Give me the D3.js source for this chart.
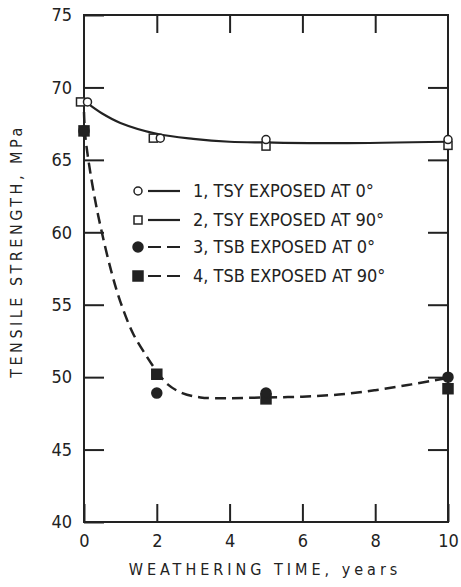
<!DOCTYPE html>
<html>
<head>
<meta charset="utf-8">
<script src="https://cdn.jsdelivr.net/npm/d3@7.9.0/dist/d3.min.js"></script>
<style>
  html, body { margin: 0; padding: 0; background: #fff; }
  svg { display: block; }
  text { font-family: "DejaVu Sans Condensed", "Liberation Sans Narrow", "DejaVu Sans", sans-serif; font-stretch: condensed; fill: #222; }
</style>
</head>
<body>
<svg id="chart" width="461" height="587"></svg>
<script>
// === Data ===
const years = [0, 2, 5, 10];
const tsy0 = [69.0, 66.5, 66.4, 66.4];   // 1, open circle
const tsy90 = [69.0, 66.5, 65.95, 66.0]; // 2, open square
const tsb0 = [67.0, 48.9, 48.9, 50.0];   // 3, filled circle
const tsb90 = [67.0, 50.2, 48.5, 49.2];  // 4, filled square

// hand-drawn fit curves (x in years, y in MPa)
const solidFit = [[0.1, 68.9], [0.5, 68.2], [1, 67.55], [2, 66.8], [3, 66.45], [4, 66.25], [5, 66.2], [7, 66.15], [10, 66.25]];
const dashedFit = [[0, 68.3], [0.03, 66.8], [0.12, 65], [0.3, 62.3], [0.49, 60], [0.75, 57.3], [1.0, 55.2], [1.35, 53.0],
                   [1.73, 51.4], [2.0, 50.4], [2.3, 49.5], [2.7, 48.9], [3.2, 48.6], [4, 48.55], [5, 48.6], [6, 48.65],
                   [7, 48.8], [8, 49.1], [9, 49.5], [10, 49.95]];

const xTicks = [0, 2, 4, 6, 8, 10];
const yTicks = [40, 45, 50, 55, 60, 65, 70, 75];
const legendLabels = ['1, TSY EXPOSED AT 0°', '2, TSY EXPOSED AT 90°', '3, TSB EXPOSED AT 0°', '4, TSB EXPOSED AT 90°'];

// === Layout ===
const mLeft = 84, mRight = 448, mTop = 15, mBottom = 522;
const ink = '#222';
const svg = d3.select('#chart');
const x = d3.scaleLinear().domain([0, 10]).range([mLeft, mRight]);
const y = d3.scaleLinear().domain([40, 75]).range([mBottom, mTop]);

// frame
svg.append('rect')
  .attr('x', mLeft).attr('y', mTop)
  .attr('width', mRight - mLeft).attr('height', mBottom - mTop)
  .attr('fill', 'none').attr('stroke', ink).attr('stroke-width', 2);

function styleAxis(g) {
  g.select('.domain').remove();
  g.selectAll('.tick line').attr('stroke', ink).attr('stroke-width', 2);
  g.selectAll('.tick text').attr('font-size', 18).attr('fill', ink)
    .style('font-family', '"DejaVu Sans Condensed", "Liberation Sans Narrow", "DejaVu Sans", sans-serif');
}

// inner ticks on all four sides
svg.append('g').attr('transform', `translate(${mLeft},0)`)
  .call(d3.axisLeft(y).tickValues(yTicks).tickSizeInner(-20).tickSizeOuter(0).tickPadding(12))
  .call(styleAxis);
svg.append('g').attr('transform', `translate(${mRight},0)`)
  .call(d3.axisRight(y).tickValues(yTicks.slice(1, -1)).tickSizeInner(-20).tickSizeOuter(0).tickFormat(''))
  .call(styleAxis);
svg.append('g').attr('transform', `translate(0,${mBottom})`)
  .call(d3.axisBottom(x).tickValues(xTicks).tickSizeInner(-18).tickSizeOuter(0).tickPadding(12))
  .call(styleAxis);
svg.append('g').attr('transform', `translate(0,${mTop})`)
  .call(d3.axisTop(x).tickValues(xTicks.slice(1, -1)).tickSizeInner(-18).tickSizeOuter(0).tickFormat(''))
  .call(styleAxis);

// axis titles
svg.append('text')
  .attr('x', 265).attr('y', 575)
  .attr('text-anchor', 'middle').attr('font-size', 16)
  .attr('letter-spacing', 4)
  .text('WEATHERING TIME, years');
svg.append('text')
  .attr('transform', 'translate(22,251) rotate(-90)')
  .attr('text-anchor', 'middle').attr('font-size', 16)
  .attr('letter-spacing', 3.5)
  .text('TENSILE STRENGTH, MPa');

// fit curves
const line = d3.line().x(d => x(d[0])).y(d => y(d[1])).curve(d3.curveCatmullRom.alpha(0.5));
svg.append('path').attr('d', line(solidFit))
  .attr('fill', 'none').attr('stroke', ink).attr('stroke-width', 2.2);
svg.append('path').attr('d', line(dashedFit))
  .attr('fill', 'none').attr('stroke', ink).attr('stroke-width', 2.5)
  .attr('stroke-dasharray', '11,6');

// markers (open symbols at 0 and 2 years sit side by side)
const openShift = [3.5, 3.5, 0, 0];
function circles(values, shift, filled) {
  svg.append('g').selectAll('circle').data(values).join('circle')
    .attr('cx', (d, i) => x(years[i]) + shift[i]).attr('cy', d => y(d))
    .attr('r', filled ? 5 : 4)
    .attr('fill', filled ? ink : '#fff')
    .attr('stroke', ink).attr('stroke-width', 1.5);
}
function squares(values, shift, filled) {
  const s = filled ? 10 : 8;
  svg.append('g').selectAll('rect').data(values).join('rect')
    .attr('x', (d, i) => x(years[i]) + shift[i] - s / 2).attr('y', d => y(d) - s / 2)
    .attr('width', s).attr('height', s)
    .attr('fill', filled ? ink : '#fff')
    .attr('stroke', ink).attr('stroke-width', 1.5);
}
const noShift = [0, 0, 0, 0];
squares(tsy90, openShift.map(v => -v), false);
circles(tsy0, openShift, false);
squares(tsb90, noShift, true);
circles(tsb0, noShift, true);

// legend
const legendY = [191, 220, 247, 276];
const legend = svg.append('g');
legendLabels.forEach((label, i) => {
  const ly = legendY[i];
  const filled = i >= 2;
  if (i % 2 === 0) {
    legend.append('circle').attr('cx', 138).attr('cy', ly).attr('r', filled ? 5 : 4)
      .attr('fill', filled ? ink : '#fff').attr('stroke', ink).attr('stroke-width', 1.5);
  } else {
    const s = filled ? 10 : 8;
    legend.append('rect').attr('x', 138 - s / 2).attr('y', ly - s / 2).attr('width', s).attr('height', s)
      .attr('fill', filled ? ink : '#fff').attr('stroke', ink).attr('stroke-width', 1.5);
  }
  legend.append('line').attr('x1', 148).attr('x2', 180).attr('y1', ly).attr('y2', ly)
    .attr('stroke', ink).attr('stroke-width', 2.2)
    .attr('stroke-dasharray', filled ? '13,6' : null);
  legend.append('text').attr('x', 193).attr('y', ly).attr('dy', '0.36em')
    .attr('font-size', 18).text(label);
});
</script>
</body>
</html>
